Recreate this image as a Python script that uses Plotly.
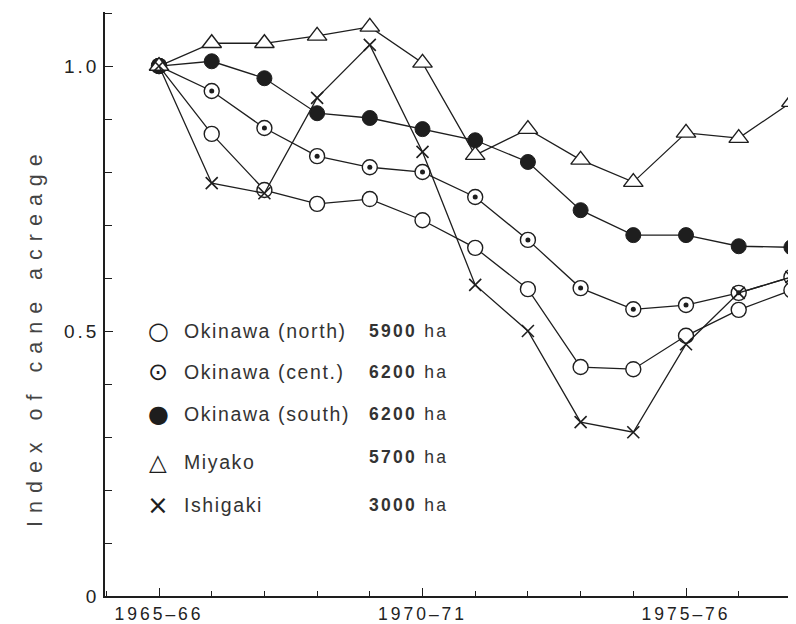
import plotly.graph_objects as go

# ---------------- data ----------------
years = [1965, 1966, 1967, 1968, 1969, 1970, 1971, 1972, 1973, 1974, 1975, 1976, 1977]
tick_years = [1965, 1970, 1975]
tick_labels = ["1965\u201366", "1970\u201371", "1975\u201376"]
y_tick_vals = [0, 0.5, 1.0]
y_tick_labels = ["0", "0.5", "1.0"]

north = [1.00, 0.872, 0.766, 0.740, 0.749, 0.709, 0.657, 0.579, 0.432, 0.428, 0.491, 0.540, 0.577]
cent = [1.00, 0.953, 0.883, 0.830, 0.809, 0.800, 0.753, 0.672, 0.581, 0.541, 0.549, 0.572, 0.602]
south = [1.00, 1.009, 0.977, 0.911, 0.902, 0.881, 0.860, 0.819, 0.728, 0.681, 0.681, 0.660, 0.658]
miyako = [1.00, 1.043, 1.043, 1.057, 1.074, 1.006, 0.832, 0.881, 0.823, 0.781, 0.874, 0.864, 0.932]
ishigaki = [1.00, 0.779, 0.760, 0.940, 1.040, 0.838, 0.587, 0.500, 0.328, 0.309, 0.475, 0.572, 0.602]

series_names = ["Okinawa (north)", "Okinawa (cent.)", "Okinawa (south)", "Miyako", "Ishigaki"]
series_areas = ["5900", "6200", "6200", "5700", "3000"]
key_glyphs = ["\u25cb", "\u2299", "\u25cf", "\u25b3", "\u00d7"]
y_title = "Index of cane acreage"

# ---------------- style ----------------
# The page body has an 8px margin, so the figure is drawn 8px right/down.
OFF = 8
W, H = 796, 624
PLOT_L, PLOT_T, PLOT_B = 105, 12, 596          # wanted page positions
ML, MT, MR = PLOT_L - OFF, PLOT_T - OFF, 0
MB = H - (PLOT_B - OFF)
PW = W - ML - MR
PH = H - MT - MB
INK = "#1e1e1e"
TXT = "#333333"
FONT = "Liberation Sans, Arial, sans-serif"
LINE = dict(color=INK, width=1.3)
MS = 15


def spaced(s, px):
    return '<span style="letter-spacing:%spx">%s</span>' % (px, s)


def px_x(p):
    return (p - PLOT_L) / PW


def px_y(p):
    return (PLOT_B - p) / PH


fig = go.Figure()

fig.add_trace(go.Scatter(
    x=years, y=north, mode="lines+markers", line=LINE, cliponaxis=False,
    marker=dict(symbol="circle", size=MS, color="white", line=dict(color=INK, width=1.4)),
    showlegend=False))
fig.add_trace(go.Scatter(
    x=years, y=cent, mode="lines+markers", line=LINE, cliponaxis=False,
    marker=dict(symbol="circle", size=MS, color="white", line=dict(color=INK, width=1.4)),
    showlegend=False))
fig.add_trace(go.Scatter(
    x=years, y=cent, mode="markers", cliponaxis=False,
    marker=dict(symbol="circle", size=5, color=INK, line=dict(width=0)),
    showlegend=False))
fig.add_trace(go.Scatter(
    x=years, y=south, mode="lines+markers", line=LINE, cliponaxis=False,
    marker=dict(symbol="circle", size=MS, color=INK, line=dict(color=INK, width=1)),
    showlegend=False))
fig.add_trace(go.Scatter(
    x=years, y=miyako, mode="lines+markers", line=LINE, cliponaxis=False,
    marker=dict(symbol="triangle-up", size=17, color="white", line=dict(color=INK, width=1.4)),
    showlegend=False))
fig.add_trace(go.Scatter(
    x=years, y=ishigaki, mode="lines+markers", line=LINE, cliponaxis=False,
    marker=dict(symbol="x-thin", size=12, color=INK, line=dict(color=INK, width=1.6)),
    showlegend=False))

# ---------------- key (in-plot legend) ----------------
name_rows = [331, 372, 414, 462, 505]
area_rows = [331, 372, 414, 457, 505]
glyph_sizes = [24, 24, 24, 23, 26]
for i, name in enumerate(series_names):
    fig.add_annotation(
        x=px_x(158), y=px_y(name_rows[i]), xref="paper", yref="paper",
        text=key_glyphs[i], showarrow=False, xanchor="center", yanchor="middle",
        font=dict(family="DejaVu Sans", size=glyph_sizes[i], color=INK))
    fig.add_annotation(
        x=px_x(182), y=px_y(name_rows[i]), xref="paper", yref="paper",
        text=spaced(name, 1.6), showarrow=False, xanchor="left", yanchor="middle",
        font=dict(family=FONT, size=19.5, color=TXT))
    fig.add_annotation(
        x=px_x(367), y=px_y(area_rows[i]), xref="paper", yref="paper",
        text=spaced("<b>%s</b> ha" % series_areas[i], 2.3), showarrow=False,
        xanchor="left", yanchor="middle",
        font=dict(family=FONT, size=17.5, color=TXT))

# y-axis title
fig.add_annotation(
    x=px_x(35), y=px_y(337), xref="paper", yref="paper",
    text=spaced(y_title, 8), textangle=-90, showarrow=False,
    xanchor="center", yanchor="middle",
    font=dict(family=FONT, size=21.5, color="#444444"))

fig.update_layout(
    width=W, height=H,
    margin=dict(l=ML, r=MR, t=MT, b=MB, pad=0),
    paper_bgcolor="white", plot_bgcolor="white",
    font=dict(family=FONT, color=TXT),
    showlegend=False,
    xaxis=dict(
        range=[1963.975, 1977.239],
        tickmode="array", tickvals=tick_years,
        ticktext=[spaced(t, 3) for t in tick_labels],
        ticks="inside", ticklen=8, tickwidth=1.3, tickcolor=INK,
        minor=dict(dtick=1, tick0=1965, ticks="inside", ticklen=5, tickwidth=1.2, tickcolor=INK),
        showline=True, linecolor=INK, linewidth=1.5,
        showgrid=False, zeroline=False,
        tickfont=dict(family=FONT, size=17.5, color="#222222"),
        ticklabelstandoff=1,
    ),
    yaxis=dict(
        range=[0, 1.102],
        tickmode="array", tickvals=y_tick_vals,
        ticktext=[spaced(t, 3) for t in y_tick_labels],
        ticks="inside", ticklen=8, tickwidth=1.3, tickcolor=INK,
        minor=dict(dtick=0.1, tick0=0, ticks="inside", ticklen=7, tickwidth=1.2, tickcolor=INK),
        showline=True, linecolor=INK, linewidth=1.5,
        showgrid=False, zeroline=False,
        tickfont=dict(family=FONT, size=19, color="#222222"),
        ticklabelstandoff=0,
    ),
)

fig.write_html("out.html")
